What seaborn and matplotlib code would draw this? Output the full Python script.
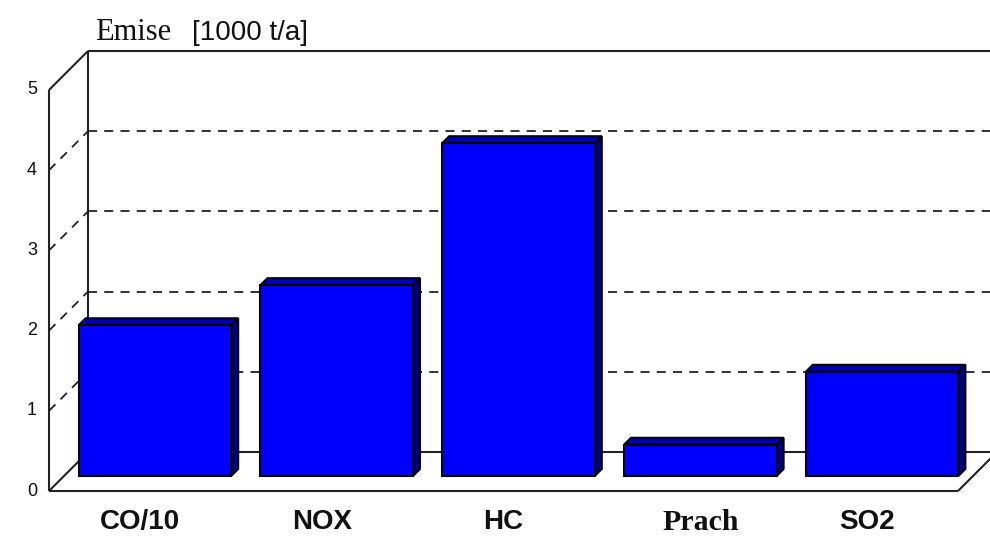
import matplotlib
matplotlib.use("Agg")
import matplotlib.pyplot as plt
import matplotlib.transforms as mtransforms
from matplotlib.patches import Polygon
import seaborn as sns
import pandas as pd

# Data (emise v 1000 t/a)
categories = ["CO/10", "NOX", "HC", "Prach", "SO2"]
emise = [1.88, 2.38, 4.15, 0.39, 1.30]
y_ticks = [0, 1, 2, 3, 4, 5]
y_tick_labels = ["0", "1", "2", "3", "4", "5"]

df = pd.DataFrame({"kategorie": categories, "emise": emise})

# Styl
sns.set_theme(style="white", rc={"axes.facecolor": "white", "figure.facecolor": "white"})
plt.rcParams["font.family"] = ["Liberation Sans", "DejaVu Sans"]

FRONT_BLUE = "#0000ff"
TOP_BLUE = "#0000b0"
SIDE_BLUE = "#000080"
LINE = "#222222"

# pseudo 3D posuny (v pixelech) vzhledem k rovine cel sloupcu
D_FRONT = -15
D_BACK = 24
D_BAR = 7

fig = plt.figure(figsize=(9.9, 5.41), dpi=100)
ax = fig.add_axes([0, 0, 1, 1])

sns.barplot(data=df, x="kategorie", y="emise", color=FRONT_BLUE, saturation=1,
            edgecolor="black", linewidth=1.5, width=0.84, ax=ax, zorder=3)

# osy tak, aby rovina sloupcu lezela tam, kde v predloze
px_x = 909 / 5.0
px_y = 401 / 5.0
ax.set_xlim(-0.5 - 64 / px_x, 4.5 + (990 - 973) / px_x)
ax.set_ylim(-65 / px_y, 5 + (541 - 466) / px_y)
ax.axis("off")

ident = mtransforms.IdentityTransform()


def px(x, y, d):
    xd, yd = ax.transData.transform((x, y))
    return (xd + d, yd + d)


def line3d(p1, p2, **kw):
    a = px(*p1)
    b = px(*p2)
    ax.plot([a[0], b[0]], [a[1], b[1]], transform=ident, **kw)


x0, x1 = -0.5, 4.5
ymax = y_ticks[-1]
solid = dict(color=LINE, lw=1.5, zorder=1, solid_capstyle="butt")
dashed = dict(color=LINE, lw=1.3, zorder=1, linestyle=(0, (5, 4)))

# zadni stena
line3d((x0, 0, D_BACK), (x0, ymax, D_BACK), **solid)
line3d((x0, ymax, D_BACK), (x1, ymax, D_BACK), **solid)
line3d((x0, 0, D_BACK), (x1, 0, D_BACK), **solid)
for t in y_ticks[1:-1]:
    line3d((x0, t, D_BACK), (x1, t, D_BACK), **dashed)
    # mrizka na leve stene
    line3d((x0, t, D_FRONT), (x0, t, D_BACK), **dashed)

# leva stena + podlaha
line3d((x0, 0, D_FRONT), (x0, ymax, D_FRONT), **solid)
line3d((x0, ymax, D_FRONT), (x0, ymax, D_BACK), **solid)
line3d((x0, 0, D_FRONT), (x0, 0, D_BACK), **solid)
line3d((x0, 0, D_FRONT), (x1, 0, D_FRONT), **solid)
line3d((x1, 0, D_FRONT), (x1, 0, D_BACK), **solid)

# horni a bocni steny sloupcu
for bar in ax.patches[:len(categories)]:
    xl = bar.get_x()
    xr = xl + bar.get_width()
    h = bar.get_height()
    top = [px(xl, h, 0), px(xr, h, 0), px(xr, h, D_BAR), px(xl, h, D_BAR)]
    side = [px(xr, 0, 0), px(xr, h, 0), px(xr, h, D_BAR), px(xr, 0, D_BAR)]
    for pts, col in [(top, TOP_BLUE), (side, SIDE_BLUE)]:
        ax.add_patch(Polygon(pts, closed=True, facecolor=col, edgecolor="black",
                             linewidth=1.4, transform=ident, zorder=2.9))

# popisky osy y
for t, lab in zip(y_ticks, y_tick_labels):
    xx, yy = px(x0, t, D_FRONT)
    ax.text(xx - 12, yy, lab, transform=ident, ha="right", va="center",
            fontsize=13, color="#111111")

# popisky kategorii
label_style = {
    "Prach": dict(family=["Liberation Serif", "DejaVu Serif"], fontsize=21.5, weight="bold", dx=0),
}
for i, cat in enumerate(categories):
    st = label_style.get(cat, dict(family=["Liberation Sans", "DejaVu Sans"], fontsize=20,
                                   weight="bold", dx=D_FRONT))
    xx, _ = px(i, 0, st["dx"])
    ax.text(xx, 19, cat, transform=ident, ha="center", va="center",
            fontsize=st["fontsize"], fontweight=st["weight"], family=st["family"],
            color="#111111")

# titulek osy
fig.text(95 / 990, 1 - 40 / 541, "Emise", ha="left", va="baseline", fontsize=22,
         family=["Liberation Serif", "DejaVu Serif"], color="#111111")
fig.text(192 / 990, 1 - 40 / 541, "[1000 t/a]", ha="left", va="baseline", fontsize=20,
         family=["Liberation Sans", "DejaVu Sans"], color="#111111")

fig.savefig("out.png", dpi=100)
